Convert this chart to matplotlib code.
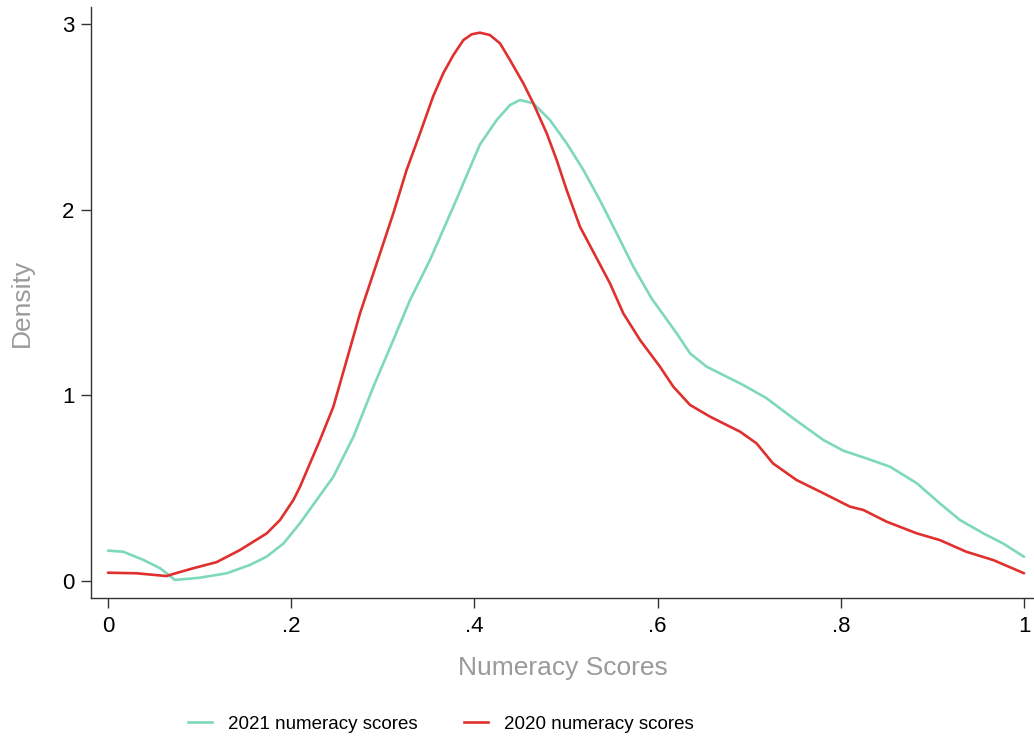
import matplotlib
matplotlib.use("Agg")
import matplotlib.pyplot as plt
from matplotlib.lines import Line2D

plt.rcParams['font.family'] = ['Liberation Sans', 'DejaVu Sans']

# 2021 numeracy scores density
x2021 = [0.0, 0.0167, 0.0386, 0.057, 0.0731, 0.1, 0.1296, 0.155, 0.1733, 0.1915,
         0.2096, 0.246, 0.268, 0.2897, 0.3115, 0.3297, 0.3515, 0.377, 0.406,
         0.4243, 0.4389, 0.4498, 0.4643, 0.4825, 0.5007, 0.519, 0.537, 0.5553, 0.5735,
         0.5935, 0.6026, 0.6208, 0.6354, 0.6536, 0.6608, 0.679, 0.6936, 0.719, 0.748,
         0.781, 0.803, 0.828, 0.8537, 0.883, 0.908, 0.93, 0.9556, 0.9774, 1.0]
y2021 = [0.162, 0.156, 0.112, 0.067, 0.004, 0.016, 0.04, 0.085, 0.13, 0.20,
         0.31, 0.56, 0.776, 1.045, 1.297, 1.512, 1.728, 2.015, 2.35,
         2.482, 2.563, 2.59, 2.572, 2.482, 2.357, 2.213, 2.05, 1.872, 1.692,
         1.52, 1.458, 1.333, 1.225, 1.153, 1.135, 1.09, 1.054, 0.983, 0.875,
         0.758, 0.70, 0.659, 0.614, 0.525, 0.417, 0.327, 0.255, 0.20, 0.129]

# 2020 numeracy scores density
x2020 = [0.0, 0.031, 0.064, 0.071, 0.093, 0.1186, 0.144, 0.1733, 0.1878, 0.2024,
         0.2096, 0.2314, 0.246, 0.2606, 0.2751, 0.297, 0.3115, 0.326, 0.3406,
         0.355, 0.366, 0.377, 0.388, 0.397, 0.406, 0.417, 0.428, 0.4389, 0.4534,
         0.4643, 0.479, 0.4898, 0.5007, 0.5153, 0.53, 0.548, 0.5626, 0.5808, 0.6026,
         0.6172, 0.6354, 0.6572, 0.679, 0.69, 0.708, 0.726, 0.7515, 0.781, 0.81,
         0.8246, 0.85, 0.883, 0.908, 0.937, 0.9665, 1.0]
y2020 = [0.043, 0.04, 0.025, 0.036, 0.067, 0.10, 0.165, 0.255, 0.327, 0.435,
         0.506, 0.758, 0.937, 1.189, 1.44, 1.764, 1.98, 2.213, 2.41,
         2.61, 2.734, 2.832, 2.913, 2.944, 2.953, 2.94, 2.895, 2.805, 2.68,
         2.572, 2.41, 2.267, 2.105, 1.907, 1.77, 1.602, 1.44, 1.297, 1.153,
         1.045, 0.947, 0.884, 0.83, 0.803, 0.74, 0.632, 0.543, 0.471, 0.399,
         0.381, 0.318, 0.255, 0.219, 0.156, 0.111, 0.04]

xticks = [0, 0.2, 0.4, 0.6, 0.8, 1.0]
xticklabels = ['0', '.2', '.4', '.6', '.8', '1']
yticks = [0, 1, 2, 3]
yticklabels = ['0', '1', '2', '3']
legend_labels = ['2021 numeracy scores', '2020 numeracy scores']

teal = '#7dd8bd'
red = '#e0302e'

fig = plt.figure(figsize=(10.34, 7.40), dpi=100)
ax = fig.add_axes([0.088, 0.1919, 0.912, 0.7986])

ax.plot(x2021, y2021, color=teal, lw=1.9, solid_capstyle='round', solid_joinstyle='round')
ax.plot(x2020, y2020, color=red, lw=1.9, solid_capstyle='round', solid_joinstyle='round')

ax.set_xlim(-0.01856, 1.0109)
ax.set_ylim(-0.0932, 3.091)

for s in ['top', 'right']:
    ax.spines[s].set_visible(False)
for s in ['left', 'bottom']:
    ax.spines[s].set_color('#333333')
    ax.spines[s].set_linewidth(1.0)

ax.set_xticks(xticks)
ax.set_xticklabels(xticklabels)
ax.set_yticks(yticks)
ax.set_yticklabels(yticklabels)
ax.tick_params(axis='both', direction='out', length=7, width=1.0, color='#333333',
               labelsize=16, labelcolor='black')
ax.tick_params(axis='x', pad=6)
ax.tick_params(axis='y', pad=5)

ax.set_ylabel('Density', fontsize=19, color='#9a9a9a', labelpad=20)
ax.set_xlabel('Numeracy Scores', fontsize=19, color='#9a9a9a', labelpad=14)

handles = [Line2D([0], [0], color=teal, lw=1.9), Line2D([0], [0], color=red, lw=1.9)]
fig.legend(handles, legend_labels,
           loc='center', bbox_to_anchor=(441 / 1034, 1 - 724 / 740), ncol=2,
           frameon=False, prop={'size': 13.5},
           handlelength=1.28, handletextpad=0.85, columnspacing=2.45)

fig.savefig('out.png', dpi=100)
